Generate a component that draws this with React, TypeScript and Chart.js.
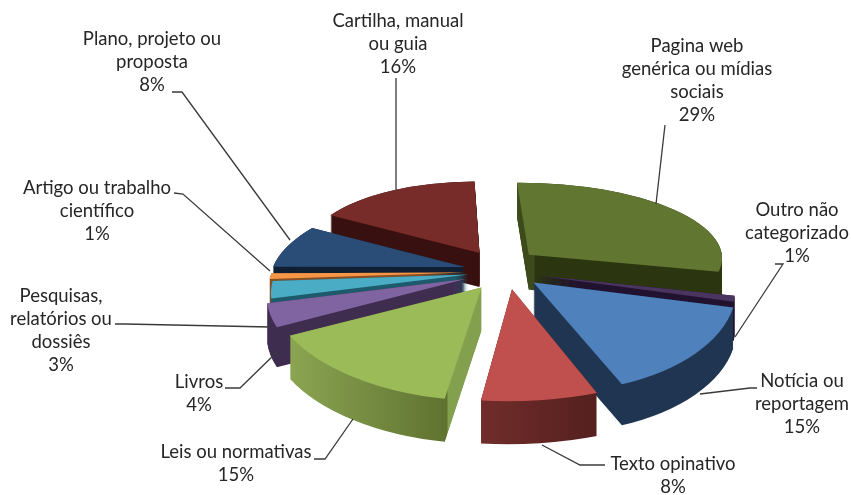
import React, { useEffect, useRef } from "react";
import { Chart, registerables } from "chart.js";

Chart.register(...registerables);

const categories = [
  "Pagina web genérica ou mídias sociais",
  "Outro não categorizado",
  "Notícia ou reportagem",
  "Texto opinativo",
  "Leis ou normativas",
  "Livros",
  "Pesquisas, relatórios ou dossiês",
  "Artigo ou trabalho científico",
  "Plano, projeto ou proposta",
  "Cartilha, manual ou guia",
];
const values = [29, 1, 15, 8, 15, 4, 3, 1, 8, 16];

// style tables
const explode = [46, 33, 36, 37, 40, 42, 37, 40, 42, 50];
const explodeTurnDeg = [-17, 0, -3, -4, 0, 0, 0, 0, 0, 0];
const topColors = ["#607631", "#4a3560", "#4f81bd", "#c0504d", "#9bbb59", "#8064a2", "#4bacc6", "#f79646", "#2a4d77", "#772c2a"];
const sideStops: [number, string][][] = [
  [[0, "#3d4b1c"], [0.08, "#3d4b1c"], [0.09, "#2b3510"], [1, "#2b3510"]],
  [[0, "#21122f"], [1, "#21122f"]],
  [[0, "#1f3552"], [1, "#1f3552"]],
  [[0, "#702c2a"], [1, "#54201e"]],
  [[0, "#8ba552"], [0.82, "#5f7230"], [0.825, "#82a04e"], [1, "#82a04e"]],
  [[0, "#3f2d50"], [1, "#3f2d50"]],
  [[0, "#1d5a6c"], [1, "#1d5a6c"]],
  [[0, "#8a5023"], [1, "#8a5023"]],
  [[0, "#101f33"], [1, "#101f33"]],
  [[0, "#38100f"], [1, "#38100f"]],
];
const labelLines = [
  ["Pagina web", "genérica ou mídias", "sociais", "29%"],
  ["Outro não", "categorizado", "1%"],
  ["Notícia ou", "reportagem", "15%"],
  ["Texto opinativo", "8%"],
  ["Leis ou normativas", "15%"],
  ["Livros", "4%"],
  ["Pesquisas,", "relatórios ou", "dossiês", "3%"],
  ["Artigo ou trabalho", "científico", "1%"],
  ["Plano, projeto ou", "proposta", "8%"],
  ["Cartilha, manual", "ou guia", "16%"],
];
const labelCentersX = [697, 797, 802, 673, 236, 199, 61, 97, 152, 398];
const labelFirstY = [46, 210, 381, 464, 452, 382, 296, 188, 39, 21];
const leaders = [
  [[665, 125], [656, 204]],
  [[775, 264], [783, 264], [735, 337]],
  [[757, 388], [750, 388], [700, 394]],
  [[605, 465], [580, 465], [542, 445]],
  [[314, 459], [325, 459], [353, 419]],
  [[225, 388], [240, 388], [277, 352]],
  [[115, 324], [125, 324], [270, 327]],
  [[174, 193], [183, 194], [270, 271]],
  [[172, 92], [182, 92], [290, 240]],
  [[396, 78], [396, 191]],
];

const TILT = 0.46;
const PERSP = 1200;
const DEPTH = 38;
const ROTATION = -3;
const RADIUS = 193;

function project(cx: number, cy: number, x: number, y: number): [number, number] {
  const u = x - cx;
  const v = y - cy;
  const s = PERSP / (PERSP - v);
  return [cx + u * s, cy + TILT * v * s];
}

function solveAffine(src: number[][], dst: number[][]) {
  const [[x0, y0], [x1, y1], [x2, y2]] = src;
  const [[X0, Y0], [X1, Y1], [X2, Y2]] = dst;
  const det = (x1 - x0) * (y2 - y0) - (x2 - x0) * (y1 - y0);
  const a = ((X1 - X0) * (y2 - y0) - (X2 - X0) * (y1 - y0)) / det;
  const c = ((X2 - X0) * (x1 - x0) - (X1 - X0) * (x2 - x0)) / det;
  const b = ((Y1 - Y0) * (y2 - y0) - (Y2 - Y0) * (y1 - y0)) / det;
  const d = ((Y2 - Y0) * (x1 - x0) - (Y1 - Y0) * (x2 - x0)) / det;
  const e = X0 - a * x0 - c * y0;
  const f = Y0 - b * x0 - d * y0;
  return [a, b, c, d, e, f] as const;
}

const pie3d = {
  id: "pie3d",
  beforeDatasetsDraw(chart: any) {
    const ctx: CanvasRenderingContext2D = chart.ctx;
    const arcs: any[] = chart.getDatasetMeta(0).data;
    const w = chart.width;
    const h = chart.height;
    const order = arcs
      .map((arc, i) => ({ arc, i, my: Math.sin((arc.startAngle + arc.endAngle) / 2) }))
      .sort((p, q) => p.my - q.my);

    for (const { arc, i } of order) {
      const mid = (arc.startAngle + arc.endAngle) / 2;
      const off = explode[i];
      const dirA = mid + (explodeTurnDeg[i] * Math.PI) / 180;
      const ox = Math.cos(dirA) * off;
      const oy = Math.sin(dirA) * off;
      const r = arc.outerRadius;
      const span = Math.max(arc.circumference / 2, 0.35);
      const src = [
        [arc.x, arc.y],
        [arc.x + r * Math.cos(mid - span), arc.y + r * Math.sin(mid - span)],
        [arc.x + r * Math.cos(mid + span), arc.y + r * Math.sin(mid + span)],
      ];
      const m = solveAffine(src, src.map((p) => project(arc.x, arc.y, p[0] + ox, p[1] + oy)));

      // screen extent of this slice, used for the side shading
      const edge: [number, number][] = [[arc.x, arc.y]];
      for (let t = 0; t <= 12; t++) {
        const an = arc.startAngle + (arc.circumference * t) / 12;
        edge.push([arc.x + r * Math.cos(an), arc.y + r * Math.sin(an)]);
      }
      const xs = edge.map((p) => m[0] * p[0] + m[2] * p[1] + m[4]);
      const minX = Math.min(...xs);
      const maxX = Math.max(...xs);

      const sideScale = PERSP / (PERSP - oy - r * Math.sin(mid) * 0.6);
      const depth = Math.round(DEPTH * sideScale);

      const off2 = document.createElement("canvas");
      off2.width = w;
      off2.height = h;
      const o = off2.getContext("2d") as CanvasRenderingContext2D;
      const clone = Object.create(arc);
      clone.options = { ...arc.options, backgroundColor: "#000" };
      for (let d = depth; d >= 0; d--) {
        o.setTransform(m[0], m[1], m[2], m[3], m[4], m[5] + d);
        clone.draw(o);
      }
      o.setTransform(1, 0, 0, 1, 0, 0);
      o.globalCompositeOperation = "source-in";
      const g = o.createLinearGradient(minX, 0, maxX, 0);
      sideStops[i].forEach(([f, c]) => g.addColorStop(f, c));
      o.fillStyle = g;
      o.fillRect(0, 0, w, h);
      ctx.drawImage(off2, 0, 0);

      ctx.save();
      ctx.transform(m[0], m[1], m[2], m[3], m[4], m[5]);
      arc.draw(ctx);
      ctx.restore();
    }
    return false;
  },
  afterDraw(chart: any) {
    const ctx: CanvasRenderingContext2D = chart.ctx;
    ctx.save();
    ctx.strokeStyle = "#3a3a3a";
    ctx.lineWidth = 1.3;
    leaders.forEach((pts) => {
      ctx.beginPath();
      pts.forEach(([x, y], j) => (j ? ctx.lineTo(x, y) : ctx.moveTo(x, y)));
      ctx.stroke();
    });
    ctx.fillStyle = "#262626";
    ctx.font = '18.5px Lato, "Noto Sans", sans-serif';
    ctx.textAlign = "center";
    ctx.textBaseline = "middle";
    labelLines.forEach((lines, i) => {
      lines.forEach((t, j) => ctx.fillText(t, labelCentersX[i], labelFirstY[i] + j * 23));
    });
    ctx.restore();
  },
};

export default function App() {
  const ref = useRef<HTMLCanvasElement>(null);
  useEffect(() => {
    const chart = new Chart(ref.current as HTMLCanvasElement, {
      type: "pie",
      data: {
        labels: categories,
        datasets: [
          {
            data: values,
            backgroundColor: topColors,
            borderWidth: 0,
          } as any,
        ],
      },
      options: {
        responsive: false,
        animation: false,
        rotation: ROTATION,
        radius: RADIUS,
        layout: { padding: { left: 159, top: 49 } },
        plugins: { legend: { display: false }, tooltip: { enabled: false } },
      } as any,
      plugins: [pie3d as any],
    });
    return () => chart.destroy();
  }, []);
  return (
    <canvas
      ref={ref}
      width={851}
      height={495}
      style={{ position: "absolute", left: 0, top: 0, width: 851, height: 495 }}
    />
  );
}
